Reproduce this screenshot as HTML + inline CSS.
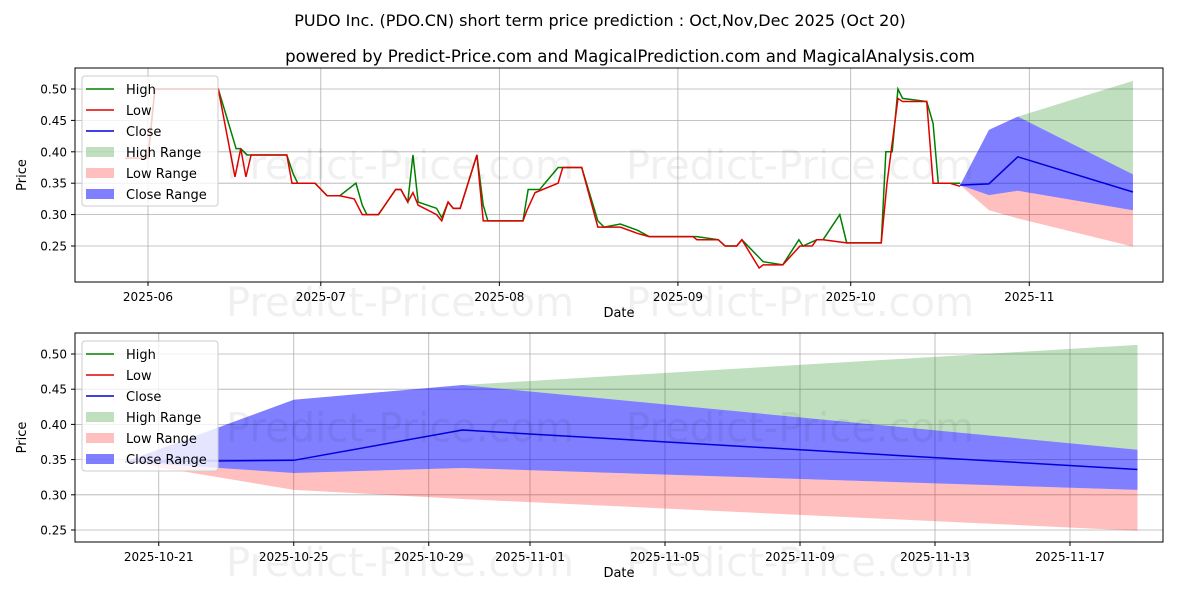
<!DOCTYPE html>
<html><head><meta charset="utf-8"><style>
body{margin:0;background:#fff;font-family:"Liberation Sans","DejaVu Sans",sans-serif;}
svg text{font-family:"DejaVu Sans","Liberation Sans",sans-serif;}
</style></head><body>
<svg id="c" width="1200" height="600" xmlns="http://www.w3.org/2000/svg"></svg>
<script>
// history: days since 2025-06-01
const lowDays=[-4,0,1.2,12.2,15.1,16.1,17,17.9,24.1,25,29,31.1,33.3,35.8,37.2,40,43,43.9,45.1,46,46.9,50.1,51,52.1,53,54.2,57.1,58.2,65.1,65.8,67.2,71.2,72,75.3,78.1,82,85,87,94.6,95.3,99,100.2,102.2,103.1,106.1,106.8,110.2,113.2,115.3,116.1,117.2,121.3,127.3,128.3,130.2,131,135.2,136.3,139.2,141];
const lowVals=[0.39,0.39,0.50,0.50,0.36,0.405,0.36,0.395,0.395,0.35,0.35,0.33,0.33,0.325,0.30,0.30,0.34,0.34,0.32,0.335,0.315,0.30,0.29,0.32,0.31,0.31,0.395,0.29,0.29,0.307,0.335,0.35,0.375,0.375,0.28,0.28,0.27,0.265,0.265,0.26,0.26,0.25,0.25,0.26,0.215,0.22,0.22,0.25,0.25,0.26,0.26,0.255,0.255,0.35,0.485,0.48,0.48,0.35,0.35,0.345];
const highDays=[-4,0,1.2,12.2,15.3,16.1,17.2,24.1,25.2,26,29,31.1,33.3,36.1,37.2,38,40,43,43.9,45.1,46,46.9,50.1,51,52.1,53,54.2,57.1,58.2,59,65.1,66,68,71.2,72,75.3,78.1,79.2,82,85,87,95.3,99,100.2,102.2,103.1,106.8,110.2,113,113.7,116.1,117.2,120.1,121.3,127.3,128.1,129.2,130.2,131,135.2,136.3,137.2,141];
const highVals=[0.39,0.39,0.50,0.50,0.405,0.405,0.395,0.395,0.365,0.35,0.35,0.33,0.33,0.35,0.315,0.30,0.30,0.34,0.34,0.32,0.395,0.32,0.31,0.295,0.32,0.31,0.31,0.395,0.315,0.29,0.29,0.34,0.34,0.375,0.375,0.375,0.29,0.28,0.285,0.275,0.265,0.265,0.26,0.25,0.25,0.26,0.225,0.22,0.26,0.25,0.26,0.26,0.30,0.255,0.255,0.40,0.40,0.50,0.485,0.48,0.445,0.35,0.35];
// prediction: days since 2025-10-20
const predDays=[0,5,10,30];
const closeVals=[0.347,0.349,0.392,0.336];
const closeUpper=[0.347,0.435,0.456,0.364];
const closeLower=[0.347,0.331,0.338,0.307];
const highUpper=[0.347,0.435,0.456,0.513];
const lowLower=[0.347,0.307,0.294,0.249];
const topXTicks=["2025-06","2025-07","2025-08","2025-09","2025-10","2025-11"];
const topXTickDays=[0,30,61,92,122,153];
const botXTicks=["2025-10-21","2025-10-25","2025-10-29","2025-11-01","2025-11-05","2025-11-09","2025-11-13","2025-11-17"];
const botXTickDays=[1,5,9,12,16,20,24,28];
const yTicks=[0.25,0.30,0.35,0.40,0.45,0.50];
const OFF=141;

const NS="http://www.w3.org/2000/svg",svg=document.getElementById('c');
function el(t,a,p){const e=document.createElementNS(NS,t);for(const k in a)e.setAttribute(k,a[k]);(p||svg).appendChild(e);return e;}
function txt(s,a,p){const e=el('text',a,p);e.textContent=s;return e;}

const t1=txt("PUDO Inc. (PDO.CN) short term price prediction : Oct,Nov,Dec 2025 (Oct 20)",{x:600,y:26,'text-anchor':'middle','font-size':16});

const t2=txt("powered by Predict-Price.com and MagicalPrediction.com and MagicalAnalysis.com",{x:630,y:62,'text-anchor':'middle','font-size':16.6});


function panel(name,top,bot,y50,y25,xf,xTicks,xTickDays,drawHist,predX){
  const L=75,R=1163;
  const g=el('g',{});
  
  
  const yf=v=>y50+(0.5-v)*(y25-y50)/0.25;
  const clip=el('clipPath',{id:name+'-clip'},g);el('rect',{x:L,y:top,width:R-L,height:bot-top},clip);
  const wm=[[400,(top+bot)/2-10],[800,(top+bot)/2-10],[400,bot+20],[800,bot+20]];
  yTicks.forEach(v=>{const y=yf(v);
    el('line',{x1:L,x2:R,y1:y,y2:y,stroke:'#b0b0b0','stroke-width':0.8},g);
    el('line',{x1:L-4,x2:L,y1:y,y2:y,stroke:'#000'},g);
    const t=txt(v.toFixed(2),{x:L-8,y:y+4.5,'text-anchor':'end','font-size':12},g);
    
  });
  xTickDays.forEach((d,i)=>{const x=xf(d);
    el('line',{x1:x,x2:x,y1:top,y2:bot,stroke:'#b0b0b0','stroke-width':0.8},g);
    el('line',{x1:x,x2:x,y1:bot,y2:bot+4,stroke:'#000'},g);
    const t=txt(xTicks[i],{x:x,y:bot+19,'text-anchor':'middle','font-size':12},g);
    
  });
  const pg=el('g',{'clip-path':'url(#'+name+'-clip)'},g);
  const band=(up,lo,fill,nm)=>{
    let pts=predDays.map((d,i)=>predX(d)+','+yf(up[i]));
    pts=pts.concat(predDays.slice().reverse().map((d,j)=>{const i=predDays.length-1-j;return predX(d)+','+yf(lo[i]);}));
    const p=el('polygon',{points:pts.join(' '),fill:fill},pg);
    
  };
  band(highUpper,closeUpper,'rgba(0,128,0,0.25)','high-range-band');
  band(closeLower,lowLower,'rgba(255,0,0,0.25)','low-range-band');
  band(closeUpper,closeLower,'rgba(0,0,255,0.5)','close-range-band');
  if(drawHist){
    const hp=el('polyline',{points:highDays.map((d,i)=>xf(d)+','+yf(highVals[i])).join(' '),fill:'none',stroke:'#008000','stroke-width':1.5},pg);
    
    const lp=el('polyline',{points:lowDays.map((d,i)=>xf(d)+','+yf(lowVals[i])).join(' '),fill:'none',stroke:'#e00000','stroke-width':1.5},pg);
    
  }
  const cp=el('polyline',{points:predDays.map((d,i)=>predX(d)+','+yf(closeVals[i])).join(' '),fill:'none',stroke:'#0000dd','stroke-width':1.5},pg);
  
  wm.forEach(w=>{const t=txt('Predict-Price.com',{x:w[0],y:w[1]+14,'text-anchor':'middle','font-size':40,fill:'rgba(0,0,0,0.06)'},g);});
  el('rect',{x:L,y:top,width:R-L,height:bot-top,fill:'none',stroke:'#000','stroke-width':1},g);
  const xl=txt('Date',{x:(L+R)/2,y:bot+35,'text-anchor':'middle','font-size':13},g);
  const yl=txt('Price',{x:0,y:0,'text-anchor':'middle','font-size':13,transform:`translate(26,${(top+bot)/2}) rotate(-90)`},g);
  const lg=el('g',{},g);
  el('rect',{x:82,y:top+8,width:136,height:130,rx:3,fill:'rgba(255,255,255,0.8)',stroke:'#ccc'},lg);
  const items=[['High','line','#008000'],['Low','line','#e00000'],['Close','line','#0000dd'],['High Range','box','rgba(0,128,0,0.25)'],['Low Range','box','rgba(255,0,0,0.25)'],['Close Range','box','rgba(0,0,255,0.5)']];
  items.forEach((it,i)=>{const y=top+21+i*21;
    const e=el('g',{},lg);
    if(it[1]=='line')el('line',{x1:86,x2:114,y1:y,y2:y,stroke:it[2],'stroke-width':1.5},e);
    else el('rect',{x:86,y:y-5,width:28,height:10,fill:it[2]},e);
    txt(it[0],{x:126,y:y+5,'font-size':13},e);
  });
}
const topXf=d=>148+d*5.76;
panel('top-panel',68,282,89,246,topXf,topXTicks,topXTickDays,true,d=>topXf(d+OFF));
const botXf=d=>125+d*33.75;
panel('bottom-panel',333,542,354,530,botXf,botXTicks,botXTickDays,false,botXf);
</script>
</body></html>
